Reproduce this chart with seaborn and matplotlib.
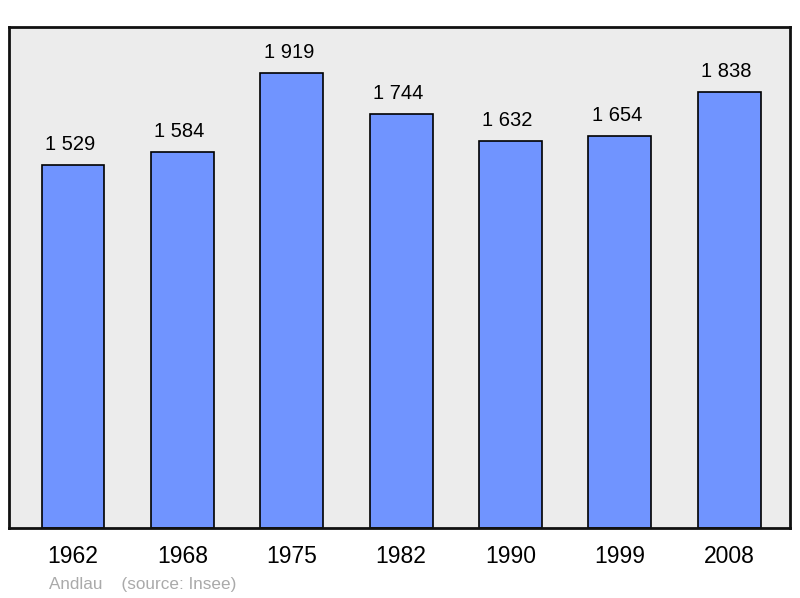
import matplotlib
matplotlib.use("Agg")
import matplotlib.pyplot as plt
import seaborn as sns
import pandas as pd

years = ["1962", "1968", "1975", "1982", "1990", "1999", "2008"]
population = [1529, 1584, 1919, 1744, 1632, 1654, 1838]
value_labels = ["1 529", "1 584", "1 919", "1 744", "1 632", "1 654", "1 838"]
footnote = "Andlau    (source: Insee)"

sns.set_theme(style="white")
plt.rcParams['font.family'] = ['Liberation Sans', 'DejaVu Sans']

df = pd.DataFrame({"year": years, "pop": population})

fig = plt.figure(figsize=(8, 5.98), dpi=100)
ax = fig.add_axes([9/800, 1 - 528/598, 781/800, 501/598])
ax.set_facecolor("#ECECEC")

sns.barplot(data=df, x="year", y="pop", ax=ax, color="#7094FF", saturation=1,
            width=0.575, edgecolor="black", linewidth=1.2)

for i, (v, lab) in enumerate(zip(population, value_labels)):
    ax.annotate(lab, xy=(i, v), xytext=(-3, 11), textcoords="offset pixels",
                ha="center", va="bottom", fontsize=14.5, color="black")

ax.set_xlim(-0.585, 6.555)
ax.set_ylim(0, 2113)
ax.set_xlabel("")
ax.set_ylabel("")
ax.set_yticks([])
ax.tick_params(axis="x", length=0, pad=12, labelsize=16.5, labelcolor="black")
for s in ax.spines.values():
    s.set_linewidth(2)
    s.set_color("#111111")

fig.text(49/800, 1 - 584/598, footnote, fontsize=12.3, color="#AAAAAA", ha="left", va="center")

fig.savefig("out.png", dpi=100)
